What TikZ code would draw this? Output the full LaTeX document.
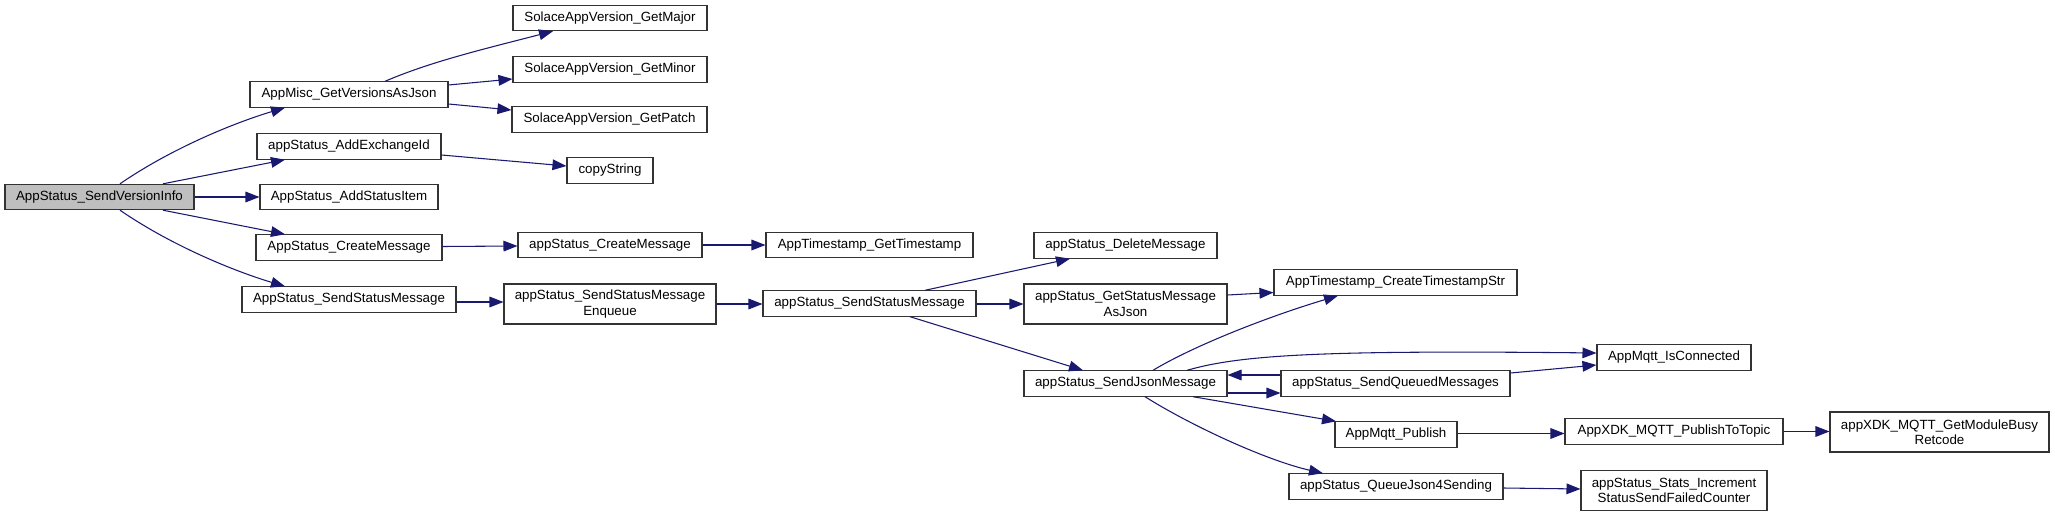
\documentclass[tikz,border=0pt]{standalone}
\usepackage{fontspec}
\setmainfont{Liberation Sans}
\usetikzlibrary{arrows.meta,calc}
\definecolor{edgeblue}{RGB}{25,25,112}
\definecolor{rootgray}{RGB}{191,191,191}
\begin{document}
\begin{tikzpicture}[x=0.75pt,y=-0.75pt,
  fn/.style={draw=black!80, line width=0.8pt, fill=white, inner sep=0pt, align=center,
    font=\fontsize{10}{11.5}\selectfont, minimum height=19pt},
  fn2/.style={fn, minimum height=30pt},
  root/.style={fn, fill=rootgray},
  edge/.style={draw=edgeblue, line width=0.8pt, -{Triangle[length=10.5pt,width=8pt]}}]
\useasboundingbox (0,0) rectangle (2055,517);

% nodes
\node[root, minimum width=141.75pt] (svi) at (99.5,197) {AppStatus\_SendVersionInfo};
\node[fn, minimum width=148.5pt] (misc) at (349,94.5) {AppMisc\_GetVersionsAsJson};
\node[fn, minimum width=138pt] (addx) at (349,146.5) {appStatus\_AddExchangeId};
\node[fn, minimum width=133.5pt] (additem) at (349,197) {AppStatus\_AddStatusItem};
\node[fn, minimum width=139.5pt] (cmsg1) at (349,247.5) {AppStatus\_CreateMessage};
\node[fn, minimum width=160.5pt] (ssm1) at (349,299.5) {AppStatus\_SendStatusMessage};
\node[fn, minimum width=145.5pt] (major) at (610,18) {SolaceAppVersion\_GetMajor};
\node[fn, minimum width=145.5pt] (minor) at (610,69.5) {SolaceAppVersion\_GetMinor};
\node[fn, minimum width=146.25pt] (patch) at (609.5,119.5) {SolaceAppVersion\_GetPatch};
\node[fn, minimum width=64.5pt] (copy) at (610,170.5) {copyString};
\node[fn, minimum width=138pt] (cmsg2) at (610,245) {appStatus\_CreateMessage};
\node[fn2, minimum width=159pt] (enq) at (610,304) {appStatus\_SendStatusMessage\\Enqueue};
\node[fn, minimum width=155.25pt] (gts) at (869.5,245) {AppTimestamp\_GetTimestamp};
\node[fn, minimum width=159.75pt] (ssm2) at (869.5,303.5) {appStatus\_SendStatusMessage};
\node[fn, minimum width=137.25pt] (del) at (1125.5,245.5) {appStatus\_DeleteMessage};
\node[fn2, minimum width=152.25pt] (gsj) at (1125.5,304) {appStatus\_GetStatusMessage\\AsJson};
\node[fn, minimum width=182.25pt] (cts) at (1395.5,282.5) {AppTimestamp\_CreateTimestampStr};
\node[fn, minimum width=152.25pt] (sjm) at (1125.5,383.5) {appStatus\_SendJsonMessage};
\node[fn, minimum width=171.75pt] (sqm) at (1395.5,383.5) {appStatus\_SendQueuedMessages};
\node[fn, minimum width=115.5pt] (isc) at (1674,357.5) {AppMqtt\_IsConnected};
\node[fn, minimum width=91.5pt] (pub) at (1396,434.5) {AppMqtt\_Publish};
\node[fn, minimum width=163.5pt] (ptt) at (1674,431.5) {AppXDK\_MQTT\_PublishToTopic};
\node[fn2, minimum width=164.25pt] (busy) at (1939.5,432) {appXDK\_MQTT\_GetModuleBusy\\Retcode};
\node[fn, minimum width=160.5pt] (qjs) at (1396,486.5) {appStatus\_QueueJson4Sending};
\node[fn2, minimum width=139.5pt] (inc) at (1674,490.5) {appStatus\_Stats\_Increment\\StatusSendFailedCounter};

% edges
\draw[edge] ($(svi.north)+(20.5,0)$) .. controls (175,146) and (240,121) .. ($(misc.south)+(-64,0)$);
\draw[edge] ($(svi.north)+(63.5,0)$) -- ($(addx.south)+(-64,0)$);
\draw[edge] (svi.east) -- (additem.west);
\draw[edge] ($(svi.south)+(63.5,0)$) -- ($(cmsg1.north)+(-64,0)$);
\draw[edge] ($(svi.south)+(20.5,0)$) .. controls (175,248) and (240,273) .. ($(ssm1.north)+(-64,0)$);
\draw[edge] ($(misc.north)+(36,0)$) .. controls (430,62) and (480,50) .. ($(major.south)+(-57,0)$);
\draw[edge] ($(misc.east)+(0,-9.5)$) -- ($(minor.west)+(0,9.5)$);
\draw[edge] ($(misc.east)+(0,9.5)$) -- ($(patch.west)+(0,-9.5)$);
\draw[edge] ($(addx.east)+(0,8.5)$) -- ($(copy.west)+(0,-4.5)$);
\draw[edge] ($(cmsg1.east)+(0,-1)$) -- ($(cmsg2.west)+(0,1)$);
\draw[edge] (cmsg2.east) -- (gts.west);
\draw[edge] ($(ssm1.east)+(0,2.5)$) -- ($(enq.west)+(0,-2)$);
\draw[edge] (enq.east) -- ($(ssm2.west)+(0,0.5)$);
\draw[edge] ($(ssm2.north)+(55.5,0)$) -- ($(del.south)+(-55.5,0)$);
\draw[edge] ($(ssm2.east)+(0,0.5)$) -- (gsj.west);
\draw[edge] ($(ssm2.south)+(40.5,0)$) -- ($(sjm.north)+(-42.5,0)$);
\draw[edge] ($(gsj.east)+(0,-9)$) -- ($(cts.west)+(0,10)$);
\draw[edge] ($(sjm.north)+(27.5,0)$) .. controls (1195,345) and (1270,316) .. ($(cts.south)+(-57.5,0)$);
\draw[edge] ($(sjm.north)+(61.5,0)$) .. controls (1240,355) and (1320,350) .. ($(isc.west)+(0,-4.5)$);
\draw[edge] ($(sjm.east)+(0,9.5)$) -- ($(sqm.west)+(0,9.5)$);
\draw[edge] ($(sqm.west)+(0,-8.5)$) -- ($(sjm.east)+(0,-8.5)$);
\draw[edge] ($(sqm.east)+(0,-10.5)$) -- ($(isc.west)+(0,7.5)$);
\draw[edge] ($(sjm.south)+(67.5,0)$) -- ($(pub.north)+(-60,0)$);
\draw[edge] ($(sjm.south)+(19.5,0)$) .. controls (1190,425) and (1265,460) .. ($(qjs.north)+(-73,0)$);
\draw[edge] ($(pub.east)+(0,-1)$) -- ($(ptt.west)+(0,2)$);
\draw[edge] (ptt.east) -- ($(busy.west)+(0,-0.5)$);
\draw[edge] ($(qjs.east)+(0,1.5)$) -- ($(inc.west)+(0,-1.5)$);
\end{tikzpicture}
\end{document}
